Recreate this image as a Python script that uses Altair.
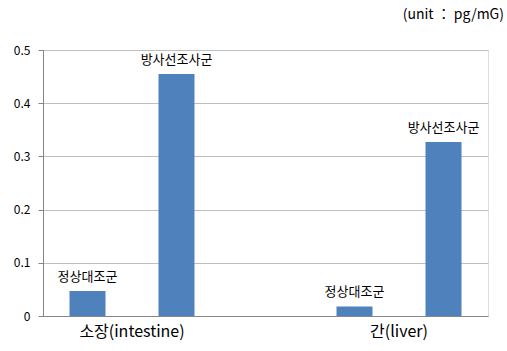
import altair as alt
import pandas as pd

slot_domain = ["s1", "s2", "s3", "s4", "s5"]
slots = ["s1", "s2", "s4", "s5"]
groups = ["소장(intestine)", "소장(intestine)", "간(liver)", "간(liver)"]
series = ["정상대조군", "방사선조사군", "정상대조군", "방사선조사군"]
values = [0.047, 0.455, 0.018, 0.327]
y_ticks = [0, 0.1, 0.2, 0.3, 0.4, 0.5]

df = pd.DataFrame({"slot": slots, "group": groups, "series": series, "value": values})

FONT = "Noto Sans CJK KR"

x = alt.X(
    "slot:N",
    scale=alt.Scale(domain=slot_domain, paddingInner=0.6, paddingOuter=0.3),
    axis=alt.Axis(
        title=None,
        labelExpr="datum.value == 's1' ? '소장(intestine)' : datum.value == 's4' ? '간(liver)' : ''",
        labelOffset=44.5,
        labelAngle=0,
        labelFontSize=16,
        labelColor="#000000",
        labelPadding=7,
        ticks=False,
        domainColor="#868686",
        grid=False,
    ),
)
y = alt.Y(
    "value:Q",
    scale=alt.Scale(domain=[0, 0.5], nice=False),
    axis=alt.Axis(
        title=None,
        values=y_ticks,
        format=".1~f",
        labelFontSize=12,
        labelColor="#000000",
        labelPadding=8,
        tickSize=5,
        tickColor="#868686",
        domainColor="#868686",
        gridColor="#bfbfbf",
    ),
)

bars = alt.Chart(df).mark_bar(color="#4F81BD", width=36).encode(x=x, y=y)
labels = alt.Chart(df).mark_text(
    baseline="bottom", dy=-7, fontSize=13, font=FONT, color="#000000"
).encode(x=x, y=y, text="series:N")

chart = (
    alt.layer(bars, labels)
    .properties(
        width=445,
        height=266,
        title=alt.TitleParams(
            "(unit ： pg/mG)",
            anchor="end",
            fontSize=14,
            fontWeight="normal",
            font=FONT,
            color="#000000",
            offset=22,
            dx=16,
        ),
        autosize=alt.AutoSizeParams(type="none"),
        padding={"left": 43, "top": 50, "right": 19, "bottom": 35},
    )
    .configure_view(stroke=None)
    .configure_axis(labelFont=FONT)
    .configure(font=FONT)
)

chart.save("out.html", embed_options={"renderer": "svg", "actions": False})
